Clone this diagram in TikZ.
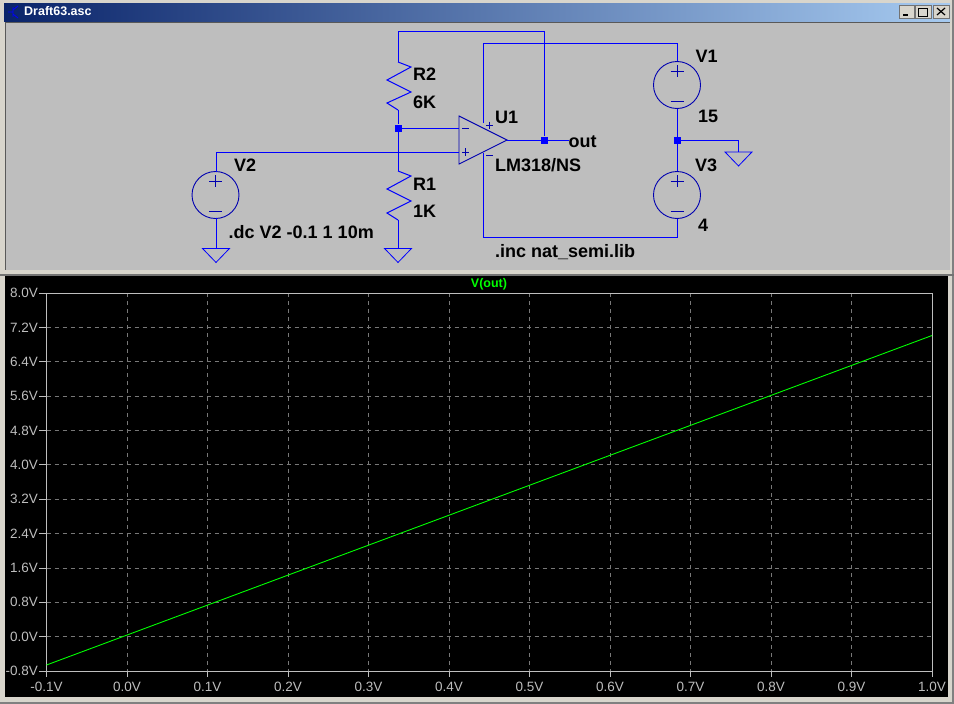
\documentclass[tikz,border=0pt]{standalone}
\usepackage{fontspec}
\setmainfont{Liberation Sans}
\usetikzlibrary{positioning,shapes.geometric}
\definecolor{wire}{HTML}{0000FF}
\definecolor{symb}{HTML}{0000B0}
\definecolor{panel}{HTML}{BEBEBE}
\definecolor{frame}{HTML}{D8D5CC}
\definecolor{trace}{HTML}{00FF00}
\definecolor{gridc}{HTML}{787878}
\definecolor{axisc}{HTML}{BEBEBE}
\definecolor{barl}{HTML}{0A246A}
\definecolor{barr}{HTML}{A6CAF0}
\begin{document}
\begin{tikzpicture}[
     x=1pt,y=-1pt,
     lab/.style={font=\fontsize{18}{18}\selectfont\bfseries,text=black,inner sep=0pt,anchor=base west},
     tick/.style={font=\fontsize{13.5}{13.5}\selectfont,text=axisc,inner sep=0pt},
     wr/.style={draw=wire,line width=1pt},
     sym/.style={draw=symb,line width=0.9pt},
     src/.style={circle,draw=symb,line width=0.9pt,minimum size=47pt,inner sep=0pt},
     dot/.style={fill=wire,minimum size=7pt,inner sep=0pt},
     gndsym/.style={isosceles triangle,shape border rotate=-90,isosceles triangle stretches,draw=wire,line width=0.8pt,minimum width=27pt,minimum height=14pt,inner sep=0pt,anchor=apex}
   ]
   \useasboundingbox (0,0) rectangle (954,704);
   % Window frame.
   \fill[frame] (0,0) rectangle (954,704);
   \fill[black!50] (0,702) rectangle (954,704) (952,0) rectangle (954,704);
   \shade[left color=barl,right color=barr] (4,3) rectangle (950,21);
   \fill[black!65] (5,22) rectangle (950,270);
   \fill[panel] (6,23) rectangle (950,270);
   \fill[black!55] (0,274) rectangle (954,276);
   \fill[black] (5,276) rectangle (948,697);
   \node[font=\fontsize{12.5}{12.5}\selectfont\bfseries,text=white,inner sep=0pt,anchor=base west] (title) at (24,16) {Draft63.asc};
   \draw[wire,line width=0.8pt] (8,12) -- (13,12) (13,7) -- (13,17) (13,10) -- (18,6) (13,14) -- (18,18);
   \foreach \bx/\bxx in {899/914,915/931,933/949}
     \draw[fill=frame,draw=black!55] (\bx,5) rectangle (\bxx,18);
   \draw[line width=1.5pt] (903,15) -- (908,15);
   \draw[line width=1pt] (918,8) rectangle (927,16);
   \draw[line width=1.2pt] (937,8) -- (945,15) (945,8) -- (937,15);

   % Schematic.
   \node[src] (v2) at (215.5,195) {};
   \node[src] (v1) at (677,85) {};
   \node[src] (v3) at (677,195) {};
   \foreach \src in {v1,v2,v3} {
     \path (\src.center) ++(0,-14) coordinate (\src p) ++(0,30) coordinate (\src m);
     \draw[sym] (\src p) ++(-6.5,0) -- ++(13,0);
     \draw[sym] (\src p) ++(0,-6) -- ++(0,12);
     \draw[sym] (\src m) ++(-6.5,0) -- ++(13,0);
   }
   \coordinate (ampin) at (459,128);
   \coordinate (amnon) at (459,152);
   \coordinate (ampout) at (507,140);
   \draw[sym] (459,116) -- (507,140) -- (459,164) -- cycle;
   \draw[sym] (462,128) -- ++(7,0);
   \draw[sym] (462,152) -- ++(7,0) (465.5,148) -- ++(0,8);
   \draw[sym] (486,125) -- ++(7,0) (489.5,121.5) -- ++(0,7);
   \draw[sym] (486,155) -- ++(7,0);

   \coordinate (r2top) at (398,62);
   \coordinate (r2bot) at (398,110);
   \coordinate (r1top) at (398,171);
   \coordinate (r1bot) at (398,220);
   \draw[wr] (r2top) -- ++(13,5) -- ++(-24,13) -- ++(24,12) -- ++(-24,11) -- (r2bot);
   \draw[wr] (r1top) -- ++(13,5) -- ++(-24,13) -- ++(24,12) -- ++(-24,12) -- (r1bot);

   \node[dot] (nodefb) at (398,128) {};
   \node[dot] (nodeout) at (544,140) {};
   \node[dot] (nodemid) at (677,140.5) {};
   \coordinate (outend) at (569,140);
   \coordinate (supup) at (483,123);
   \coordinate (supdn) at (483,153);
   \coordinate (corup) at (483,43);
   \coordinate (cordn) at (483,237);
   \coordinate (v1up) at (677,43);
   \coordinate (v3dn) at (677,237);
   \coordinate (v2top) at (216,172);
   \coordinate (v2bot) at (216,218);
   \node[gndsym] (g1) at (216,263.5) {};
   \node[gndsym] (g2) at (398,263.5) {};
   \node[gndsym] (g3) at (738.5,167) {};

   \draw[wr] (r2top) |- (544,31) -- (nodeout);
   \draw[wr] (r2bot) -- (nodefb) -- (r1top);
   \draw[wr] (nodefb) -- (ampin);
   \draw[wr] (v2top) |- (amnon);
   \draw[wr] (ampout) -- (outend);
   \draw[wr] (r1bot) -- (g2.north);
   \draw[wr] (v2bot) -- (g1.north);
   \draw[wr] (supup) -- (corup) -- (v1up) -- (v1.north);
   \draw[wr] (supdn) -- (cordn) -- (v3dn) -- (v3.south);
   \draw[wr] (v1.south) -- (nodemid) -- (v3.north);
   \draw[wr] (nodemid) -| (g3.north);

   \node[lab] (lr2) at (413,80) {R2};
   \node[lab] (vr2) at (413,108) {6K};
   \node[lab] (lr1) at (413,190) {R1};
   \node[lab] (vr1) at (413,217) {1K};
   \node[lab] (lu1) at (495,123) {U1};
   \node[lab] (vu1) at (495,171) {LM318/NS};
   \node[lab] (lout) at (568.5,147) {out};
   \node[lab] (lv1) at (695.5,62) {V1};
   \node[lab] (vv1) at (698,122) {15};
   \node[lab] (lv3) at (695,171) {V3};
   \node[lab] (vv3) at (698,231) {4};
   \node[lab] (lv2) at (234,171) {V2};
   \node[lab] (cmd) at (228.5,238) {.dc V2 -0.1 1 10m};
   \node[lab] (inc) at (495,257) {.inc nat\_semi.lib};

   % Plot.
   \foreach \gx in {1,...,10}
     \draw[gridc,line width=0.7pt,dash pattern=on 4pt off 4pt] (46.5+80.5*\gx,293) -- (46.5+80.5*\gx,671);
   \foreach \gx/\gl in {0/-0.1V,1/0.0V,2/0.1V,3/0.2V,4/0.3V,5/0.4V,6/0.5V,7/0.6V,8/0.7V,9/0.8V,10/0.9V,11/1.0V} {
     \draw[axisc,line width=0.7pt] (46.5+80.5*\gx,671) -- ++(0,6);
     \node[tick] (xt\gx) at (46.5+80.5*\gx,687) {\gl};
   }
   \foreach \gy in {1,...,10}
     \draw[gridc,line width=0.7pt,dash pattern=on 4pt off 4pt] (46.5,671-34.37*\gy) -- (932,671-34.37*\gy);
   \foreach \gy/\gl in {0/-0.8V,1/0.0V,2/0.8V,3/1.6V,4/2.4V,5/3.2V,6/4.0V,7/4.8V,8/5.6V,9/6.4V,10/7.2V,11/8.0V} {
     \draw[axisc,line width=0.7pt] (39,671-34.37*\gy) -- ++(7.5,0);
     \node[tick,anchor=east] (yt\gy) at (38,671-34.37*\gy) {\gl};
   }
   \draw[axisc,line width=0.7pt] (46.5,293) rectangle (932,671);
   \draw[trace,line width=0.9pt] (46.5,665) -- (932,335.5);
   \node[font=\fontsize{12.5}{12.5}\selectfont\bfseries,text=trace,inner sep=0pt] (vout) at (489,284) {V(out)};
 \end{tikzpicture}
\end{document}
